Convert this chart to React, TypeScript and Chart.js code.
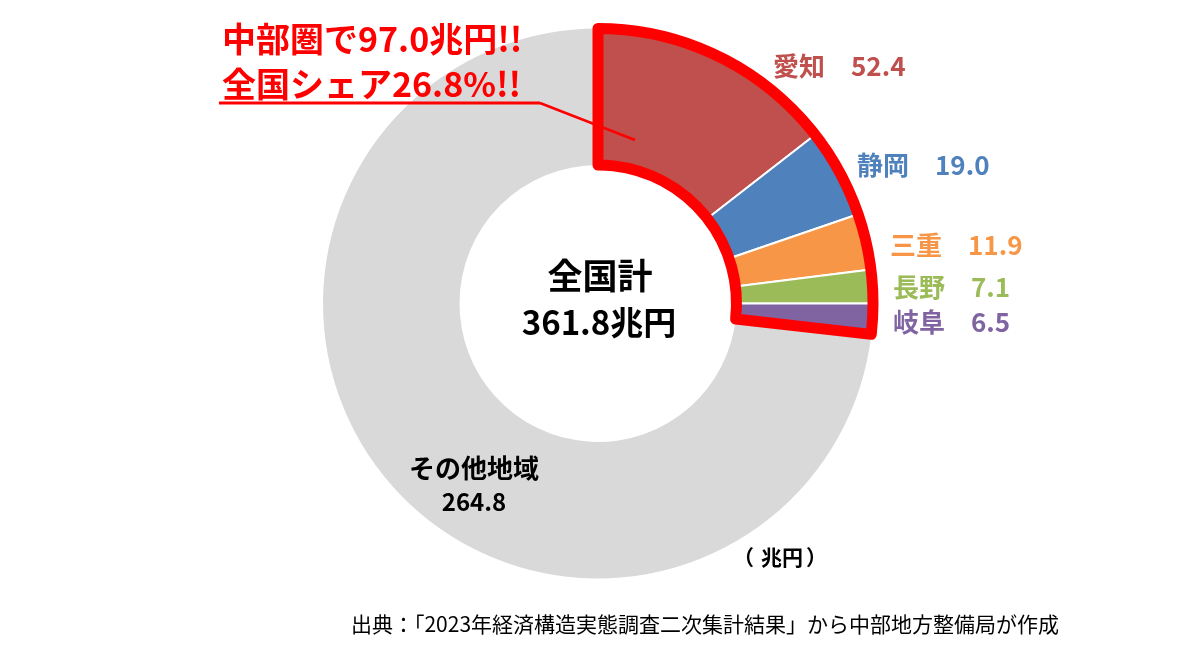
import React, { useEffect, useRef } from "react";
import { Chart, registerables } from "chart.js";

Chart.register(...registerables);

// ---- data ----
const regions = ["愛知", "静岡", "三重", "長野", "岐阜", "その他地域"];
const values = [52.4, 19.0, 11.9, 7.1, 6.5, 264.8];
const colors = ["#C0504D", "#4F81BD", "#F79646", "#9BBB59", "#8064A2", "#D9D9D9"];
const chubuCount = 5;
const nationalTotal = "361.8";
const chubuTotal = "97.0";
const chubuShare = "26.8";
const centerTitle = "全国計";
const unitText = "兆円";
const unitLabel = ["（", "兆円", "）"];
const sourceText = "出典：「2023年経済構造実態調査二次集計結果」から中部地方整備局が作成";

// ---- layout (not data) ----
const FONT = '"Noto Sans CJK JP", "Noto Sans", sans-serif';
const W = 1200;
const H = 649;
const labelPos: [number, number][] = [
  [773, 66],
  [857, 165],
  [890, 245],
  [893, 287],
  [893, 322],
  [474, 468],
];
const valueOffset = 78;

const overlayPlugin = {
  id: "overlay",
  afterDraw(chart: any) {
    const ctx: CanvasRenderingContext2D = chart.ctx;
    const meta = chart.getDatasetMeta(0);
    const first: any = meta.data[0];
    const last: any = meta.data[chubuCount - 1];
    const cx = first.x;
    const cy = first.y;
    const rO = first.outerRadius;
    const rI = first.innerRadius;
    const a0 = first.startAngle;
    const a1 = last.endAngle;

    ctx.save();
    // leader line + underline
    ctx.strokeStyle = "#FF0000";
    ctx.lineWidth = 3;
    ctx.beginPath();
    ctx.moveTo(219, 103);
    ctx.lineTo(540, 103);
    ctx.stroke();
    ctx.lineWidth = 2.5;
    ctx.beginPath();
    ctx.moveTo(540, 103);
    ctx.lineTo(635, 140);
    ctx.stroke();

    // red outline around Chubu region
    ctx.beginPath();
    ctx.arc(cx, cy, rO, a0, a1);
    ctx.arc(cx, cy, rI, a1, a0, true);
    ctx.closePath();
    ctx.lineWidth = 11;
    ctx.lineJoin = "round";
    ctx.strokeStyle = "#FF0000";
    ctx.stroke();

    // title
    ctx.fillStyle = "#FF0000";
    ctx.textBaseline = "middle";
    ctx.textAlign = "left";
    ctx.font = `bold 34px ${FONT}`;
    ctx.fillText(`中部圏で${chubuTotal}兆円!!`, 222, 39);
    ctx.fillText(`全国シェア${chubuShare}%!!`, 222, 84);

    // region labels
    for (let i = 0; i < chubuCount; i++) {
      const [lx, ly] = labelPos[i];
      ctx.fillStyle = colors[i];
      ctx.font = `bold 26px ${FONT}`;
      ctx.textAlign = "left";
      ctx.fillText(regions[i], lx, ly);
      ctx.fillText(values[i].toFixed(1), lx + valueOffset, ly);
    }
    // other regions
    const oi = regions.length - 1;
    ctx.fillStyle = "#000000";
    ctx.textAlign = "center";
    ctx.font = `bold 26px ${FONT}`;
    ctx.fillText(regions[oi], labelPos[oi][0], labelPos[oi][1]);
    ctx.font = `bold 24px ${FONT}`;
    ctx.fillText(values[oi].toFixed(1), labelPos[oi][0], labelPos[oi][1] + 34);

    // center text
    ctx.font = `bold 35px ${FONT}`;
    ctx.fillText(centerTitle, cx + 2, cy - 28);
    ctx.font = `bold 33px ${FONT}`;
    ctx.fillText(`${nationalTotal}${unitText}`, cx + 1, cy + 19);

    // unit label
    ctx.font = `bold 21px ${FONT}`;
    ctx.textAlign = "left";
    ctx.fillText(unitLabel[0], 733, 557);
    ctx.textAlign = "center";
    ctx.fillText(unitLabel[1], 782, 557);
    ctx.textAlign = "left";
    ctx.fillText(unitLabel[2], 806, 557);

    // source
    ctx.font = `21px ${FONT}`;
    ctx.textAlign = "center";
    ctx.fillText(sourceText, 705, 624);
    ctx.restore();
  },
};

export default function App() {
  const ref = useRef<HTMLCanvasElement | null>(null);

  useEffect(() => {
    document.body.style.margin = "0";
    if (!ref.current) return;
    const chart = new Chart(ref.current, {
      type: "doughnut",
      data: {
        labels: regions,
        datasets: [
          {
            data: values,
            backgroundColor: colors,
            borderColor: colors.map((c, i) => (i < chubuCount ? "#FFFFFF" : c)),
            borderWidth: colors.map((c, i) => (i < chubuCount ? 2 : 0)),
            hoverOffset: 0,
          },
        ],
      },
      options: {
        responsive: false,
        animation: false,
        radius: 275,
        cutout: 138,
        rotation: 0,
        layout: { padding: { left: 323, right: 327, top: 28, bottom: 70 } },
        plugins: {
          legend: { display: false },
          tooltip: { enabled: false },
        },
      } as any,
      plugins: [overlayPlugin],
    });
    return () => chart.destroy();
  }, []);

  return <canvas ref={ref} width={W} height={H} style={{ display: "block" }} />;
}
